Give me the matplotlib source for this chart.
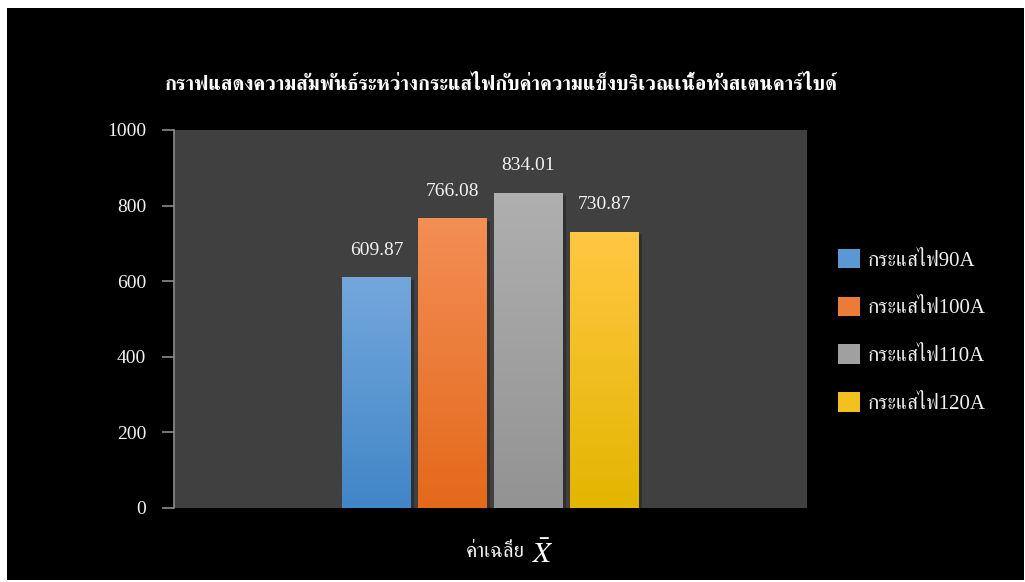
import matplotlib
matplotlib.use("Agg")
import matplotlib.pyplot as plt
import numpy as np
from matplotlib.colors import LinearSegmentedColormap
from matplotlib.patches import Rectangle

# ค่าจากกราฟ
series = ["กระแสไฟ90A", "กระแสไฟ100A", "กระแสไฟ110A", "กระแสไฟ120A"]
values = [609.87, 766.08, 834.01, 730.87]
top_colors = ["#73a7dc", "#f38e55", "#afafaf", "#ffc742"]
bottom_colors = ["#4186c7", "#e4691b", "#939393", "#e3b600"]
yticks = [0, 200, 400, 600, 800, 1000]

title = "กราฟแสดงความสัมพันธ์ระหว่างกระแสไฟกับค่าความแข็งบริเวณเนื้อทังสเตนคาร์ไบด์"
xlabel = "ค่าเฉลี่ย"

plt.rcParams['font.family'] = ['Liberation Serif', 'FreeSerif']
plt.rcParams['mathtext.fontset'] = 'stix'

W, H = 1025, 582
fig = plt.figure(figsize=(W / 100, H / 100), dpi=100, facecolor='white')

# schwarzer Hintergrund mit weissem Rand oben/links
fig.patches.append(Rectangle((7 / W, 0.003), 1017 / W, (580 - 8) / H + 0.001,
                             transform=fig.transFigure, facecolor='black',
                             edgecolor='none', zorder=-10))

ax = fig.add_axes([174 / W, 1 - 508 / H, (807 - 174) / W, (508 - 130) / H])
ax.set_facecolor('#404040')

pitch = 76 / 633
width = 69 / 633
offsets = (np.arange(len(values)) - 1.5) * pitch

for i, v in enumerate(values):
    # leichter Schatten
    ax.bar(offsets[i] + 0.005, v, width, bottom=-6, color='black', alpha=0.25, zorder=1)
    bar = ax.bar(offsets[i], v, width, color=bottom_colors[i], zorder=2)[0]
    cmap = LinearSegmentedColormap.from_list('g%d' % i, [bottom_colors[i], top_colors[i]])
    grad = np.linspace(0, 1, 100).reshape(-1, 1)
    im = ax.imshow(grad, cmap=cmap, aspect='auto', origin='lower',
                   extent=(offsets[i] - width / 2, offsets[i] + width / 2, 0, v), zorder=3)
    im.set_clip_path(bar)
    ax.text(offsets[i], v + 50, '%.2f' % v, ha='center', va='bottom',
            color='#f2f2f2', fontsize=14)

ax.set_xlim(-0.5, 0.5)
ax.set_ylim(0, 1000)
ax.set_yticks(yticks)
ax.set_xticks([])
ax.tick_params(axis='y', colors='#8c8c8c', length=9, width=1.2, labelcolor='#f2f2f2',
               labelsize=14, pad=11)
for s in ['top', 'right', 'bottom']:
    ax.spines[s].set_visible(False)
ax.spines['left'].set_color('#8c8c8c')
ax.spines['left'].set_linewidth(1.2)

fig.text(501 / W, 1 - 85 / H, title, ha='center', va='center', color='white',
         fontsize=14.5, fontweight='bold')

fig.text(525 / W, 1 - 557 / H, xlabel, ha='right', va='baseline', color='#f2f2f2', fontsize=15)
fig.text(532 / W, 1 - 563 / H, r'$\bar{X}$', ha='left', va='baseline', color='white', fontsize=21)

handles = [Rectangle((0, 0), 1, 1, facecolor=c) for c in ['#5a98d4', '#eb7b38', '#a0a0a0', '#f3c020']]
leg = fig.legend(handles, series, loc='upper left', bbox_to_anchor=(819 / W, 1 - 230 / H),
                 frameon=False, fontsize=15, labelcolor='#f2f2f2', handlelength=1.05,
                 handleheight=1.05, handletextpad=0.4, labelspacing=1.25)

fig.savefig('out.png', dpi=100, facecolor='white')
